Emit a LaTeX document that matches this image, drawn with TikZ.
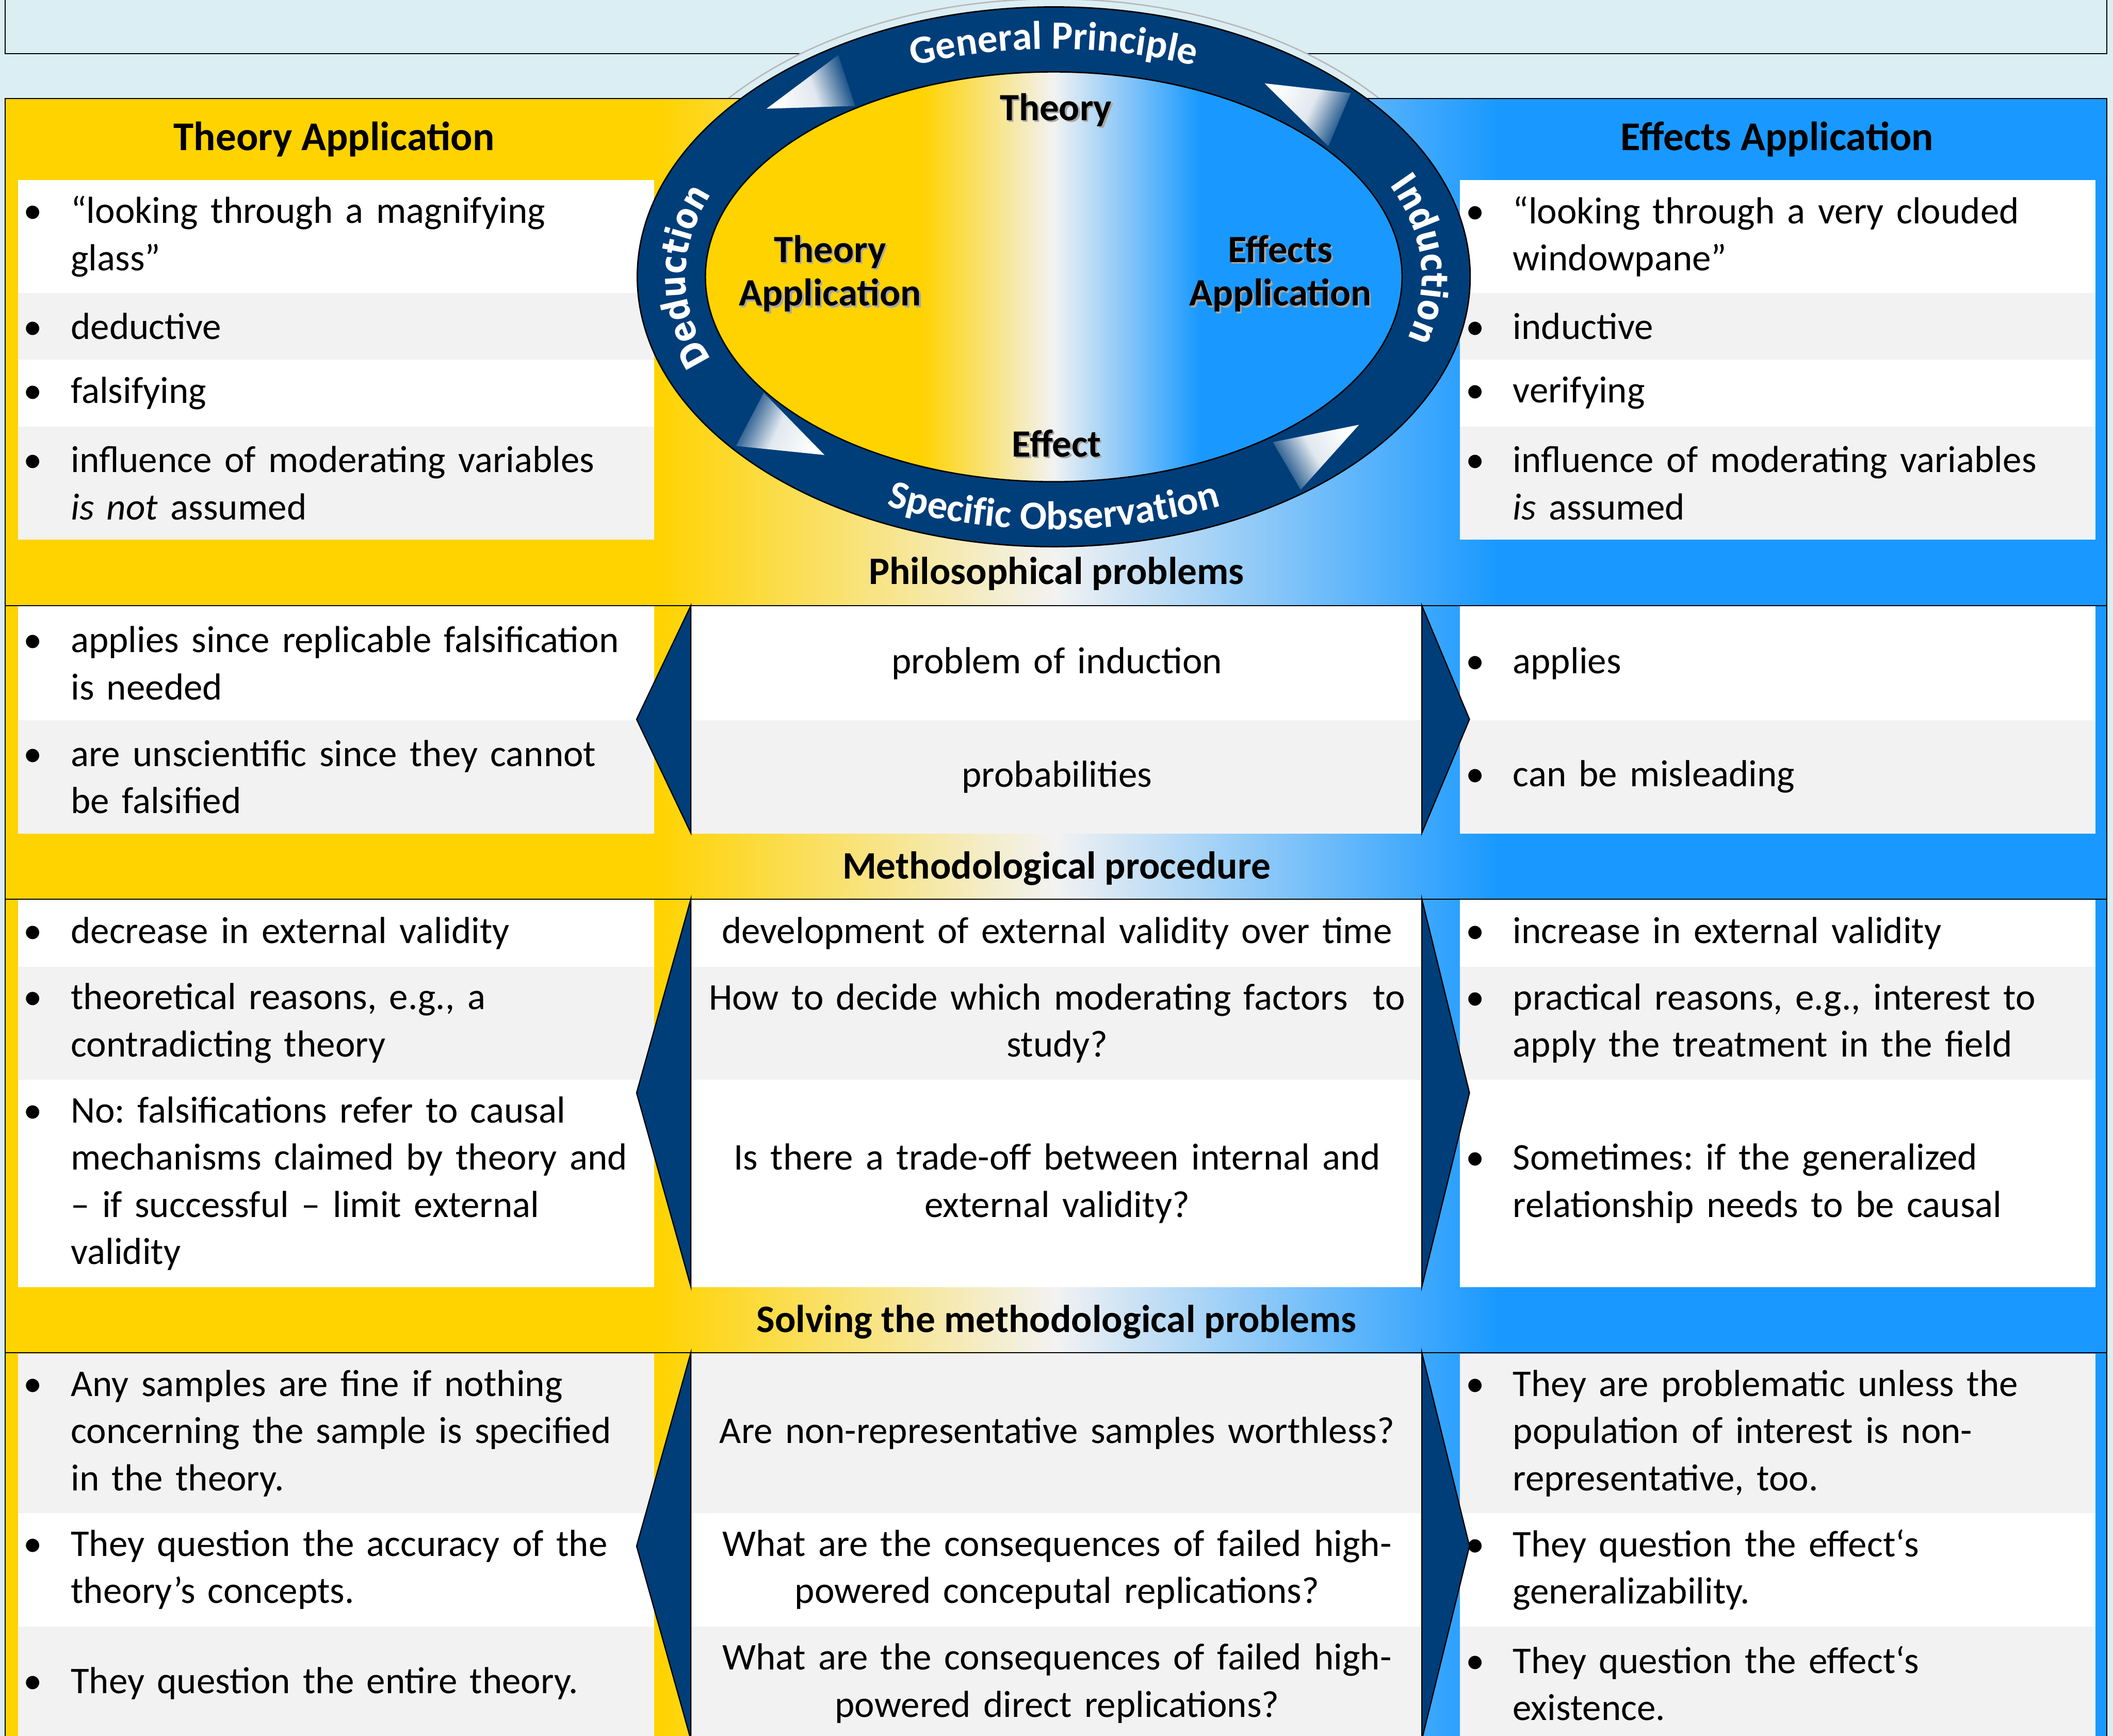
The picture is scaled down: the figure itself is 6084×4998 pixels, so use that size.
\documentclass[tikz,border=0pt]{standalone}
\usepackage{fontspec}
\setmainfont{Carlito}
\newfontfamily\ringfont{DejaVu Sans}[FakeStretch=0.84]
\usetikzlibrary{decorations.text}
\frenchspacing

\definecolor{skybg}{HTML}{DBEEF4}
\definecolor{tyellow}{HTML}{FFD300}
\definecolor{tblue}{HTML}{1999FF}
\definecolor{tpale}{HTML}{F2F2F2}
\definecolor{tnavy}{HTML}{003E79}
\definecolor{rowgray}{HTML}{F2F2F2}

% yellow -> pale -> blue, stretched over the path
\pgfdeclarehorizontalshading{yellowblue}{100bp}{color(0bp)=(tyellow); color(40.5bp)=(tyellow);
  color(50bp)=(tpale); color(60.5bp)=(tblue); color(100bp)=(tblue)}

\newlength\bulw \setlength\bulw{13.6pt}
\newcommand{\bl}{\makebox[\bulw][l]{\textbullet}}
\newcommand{\nx}{\\\hspace*{\bulw}}
\newcommand{\shd}[1]{\rlap{\kern0.5pt\lower0.5pt\hbox{\color{black!35}#1}}#1}
\newcommand{\ringbf}{\bfseries\fontsize{11.5}{13}\selectfont}
\newcommand{\ringded}{\ringfont\bfseries\fontsize{10.5}{12}\selectfont}

\tikzset{
  txt/.style = {inner sep=0pt, font=\fontsize{10.85}{13.6}\selectfont},
  hdr/.style = {txt, font=\bfseries\fontsize{11.2}{13.6}\selectfont},
  colhdr/.style = {txt, font=\bfseries\fontsize{11.75}{13.6}\selectfont},
  lbl/.style = {txt, align=center, font=\bfseries\fontsize{11.1}{12.6}\selectfont},
  cel_l/.style = {txt, anchor=north west, minimum width=183.2pt,
    text width=180pt, inner xsep=1.6pt, align=left},% bullets, left side
  cel_c/.style = {txt, anchor=north west, minimum width=210.5pt,
    text width=206pt, inner xsep=2.25pt, align=center},% questions in the middle
  cel_r/.style = {cel_l, minimum width=183pt, text width=179.8pt},% bullets, right side
  chev/.style = {fill=tnavy, draw=black, line width=.35pt},
  ringarr/.style = {top color=white, bottom color=tnavy, middle color=white!88!tnavy},
  ringlbl/.style = {decorate, decoration={text along path, text align=center,
    text color=white, text={|\ringbf|#1}}},
  ringside/.style = {decorate, decoration={text along path, text align=center,
    text color=white, text={|\ringded|#1}}}
}

\begin{document}
\begin{tikzpicture}[x=0.1pt, y=-0.1pt]
\clip (0,0) rectangle (6084,4998);
\fill[skybg] (0,0) rectangle (6084,4998);
\draw[line width=.3pt, fill=skybg] (15,-40) rectangle (6066,154);
\draw[gray!55, line width=.4pt, fill=skybg] (3034,797) ellipse [x radius=1222, y radius=800];
% panel behind the tables
\draw[line width=.3pt, shade, shading=yellowblue] (15,283) rectangle (6066,5100);

\node[colhdr, anchor=base] (th_app) at (962,433) {Theory Application};
\node[colhdr, anchor=base] (ef_app) at (5117,433) {Effects Application};

% first block, sides only
\node[cel_l, fill=white, minimum height=32.6pt] (l1) at (50,516) {\bl “looking through a magnifying\nx glass”};
\node[cel_l, fill=rowgray, minimum height=19.2pt] (l2) at (50,842) {\bl deductive};
\node[cel_l, fill=white, minimum height=19.2pt] (l3) at (50,1034) {\bl falsifying};
\node[cel_l, fill=rowgray, minimum height=32.6pt] (l4) at (50,1226) {\bl influence of moderating variables\nx \textit{is not} assumed};
\node[cel_r, fill=white, minimum height=32.6pt] (r1) at (4202,516) {\bl “looking through a very clouded\nx windowpane”};
\node[cel_r, fill=rowgray, minimum height=19.2pt] (r2) at (4202,842) {\bl inductive};
\node[cel_r, fill=white, minimum height=19.2pt] (r3) at (4202,1034) {\bl verifying};
\node[cel_r, fill=rowgray, minimum height=32.6pt] (r4) at (4202,1226) {\bl influence of moderating variables\nx \textit{is} assumed};

% philosophical problems
\node[cel_l, fill=white, minimum height=32.7pt] (l5) at (50,1744) {\bl applies since replicable falsification\nx is needed};
\node[cel_l, fill=rowgray, minimum height=32.7pt] (l6) at (50,2071) {\bl are unscientific since they cannot\nx be falsified};
\node[cel_c, fill=white, minimum height=32.7pt] (c5) at (1989,1744) {problem of induction};
\node[cel_c, fill=rowgray, minimum height=32.7pt] (c6) at (1989,2071) {probabilities};
\node[cel_r, fill=white, minimum height=32.7pt] (r5) at (4202,1744) {\bl applies};
\node[cel_r, fill=rowgray, minimum height=32.7pt] (r6) at (4202,2071) {\bl can be misleading};

% methodological procedure
\node[cel_l, fill=white, minimum height=19.2pt] (l7) at (50,2589) {\bl decrease in external validity};
\node[cel_l, fill=rowgray, minimum height=32.6pt] (l8) at (50,2781) {\bl theoretical reasons, e.g., a\nx contradicting theory};
\node[cel_l, fill=white, minimum height=59.7pt] (l9) at (50,3107) {\bl No: falsifications refer to causal\nx mechanisms claimed by theory and\nx – if successful – limit external\nx validity};
\node[cel_c, fill=white, minimum height=19.2pt] (c7) at (1989,2589) {development of external validity over time};
\node[cel_c, fill=rowgray, minimum height=32.6pt] (c8) at (1989,2781) {How to decide which moderating factors~ to\\study?};
\node[cel_c, fill=white, minimum height=59.7pt] (c9) at (1989,3107) {Is there a trade-off between internal and\\external validity?};
\node[cel_r, fill=white, minimum height=19.2pt] (r7) at (4202,2589) {\bl increase in external validity};
\node[cel_r, fill=rowgray, minimum height=32.6pt] (r8) at (4202,2781) {\bl practical reasons, e.g., interest to\nx apply the treatment in the field};
\node[cel_r, fill=white, minimum height=59.7pt] (r9) at (4202,3107) {\bl Sometimes: if the generalized\nx relationship needs to be causal};

% solving the methodological problems
\node[cel_l, fill=rowgray, minimum height=45.9pt] (l10) at (50,3895) {\bl Any samples are fine if nothing\nx concerning the sample is specified\nx in the theory.};
\node[cel_l, fill=white, minimum height=32.7pt] (l11) at (50,4354) {\bl They question the accuracy of the\nx theory’s concepts.};
\node[cel_l, fill=rowgray, minimum height=32.7pt] (l12) at (50,4681) {\bl They question the entire theory.};
\node[cel_c, fill=rowgray, minimum height=45.9pt] (c10) at (1989,3895) {Are non-representative samples worthless?};
\node[cel_c, fill=white, minimum height=32.7pt] (c11) at (1989,4354) {What are the consequences of failed high-\\powered conceputal replications?};
\node[cel_c, fill=rowgray, minimum height=32.7pt] (c12) at (1989,4681) {What are the consequences of failed high-\\powered direct replications?};
\node[cel_r, fill=rowgray, minimum height=45.9pt] (r10) at (4202,3895) {\bl They are problematic unless the\nx population of interest is non-\nx representative, too.};
\node[cel_r, fill=white, minimum height=32.7pt] (r11) at (4202,4354) {\bl They question the effect‘s\nx generalizability.};
\node[cel_r, fill=rowgray, minimum height=32.7pt] (r12) at (4202,4681) {\bl They question the effect‘s\nx existence.};

% arrow heads between the columns
\foreach \ya/\yb in {1744/2398, 2589/3704, 3895/5008}{
  \pgfmathsetmacro\ym{(\ya+\yb)/2}
  \draw[chev] (1989,\ya) -- (1833,\ym) -- (1989,\yb) -- cycle;
  \draw[chev] (4094,\ya) -- (4231,\ym) -- (4094,\yb) -- cycle;
}
\foreach \y in {1744, 2589, 3895}
  \draw[line width=.3pt] (15,\y) -- (6066,\y);

\node[hdr, anchor=base] (philo) at (3042,1682) {Philosophical problems};
\node[hdr, anchor=base] (method) at (3042,2531) {Methodological procedure};
\node[hdr, anchor=base] (solve) at (3042,3836) {Solving the methodological problems};

% the cycle
\draw[fill=tnavy, line width=.4pt] (3034,797) ellipse [x radius=1199, y radius=777];
\draw[line width=.4pt, shade, shading=yellowblue] (3034,797) ellipse [x radius=1003, y radius=590];

\shade[ringarr, shading angle=109.4] (2207,313) -- (2414,158) -- (2462,305) -- cycle;
\shade[ringarr, shading angle=64.2] (3641,240) -- (3889,268) -- (3825,421) -- cycle;
\shade[ringarr, shading angle=-115.5] (2374,1310) -- (2119,1284) -- (2199,1131) -- cycle;
\shade[ringarr, shading angle=-60.3] (3913,1223) -- (3665,1273) -- (3745,1410) -- cycle;

\begin{scope}[shift={(3034,797)}, y=0.1pt]
  \path[ringlbl={General Principle}] (150:1072 and 656) arc[start angle=150, end angle=30, x radius=1072, y radius=656];
  \path[ringlbl={Specific Observation}] (210:1146 and 727) arc[start angle=210, end angle=330, x radius=1146, y radius=727];
  \path[ringside={Deduction}] (240:1060 and 645) arc[start angle=240, end angle=120, x radius=1060, y radius=645];
  \path[ringside={Induction}] (63:1060 and 645) arc[start angle=63, end angle=-57, x radius=1060, y radius=645];
\end{scope}

\node[lbl, anchor=base] (theo) at (3040,347) {\shd{Theory}};
\node[lbl] (th_in) at (2390,790) {\shd{Theory}\\\shd{Application}};
\node[lbl] (ef_in) at (3686,790) {\shd{Effects}\\\shd{Application}};
\node[lbl, anchor=base] (eff) at (3042,1315) {\shd{Effect}};
\end{tikzpicture}
\end{document}
